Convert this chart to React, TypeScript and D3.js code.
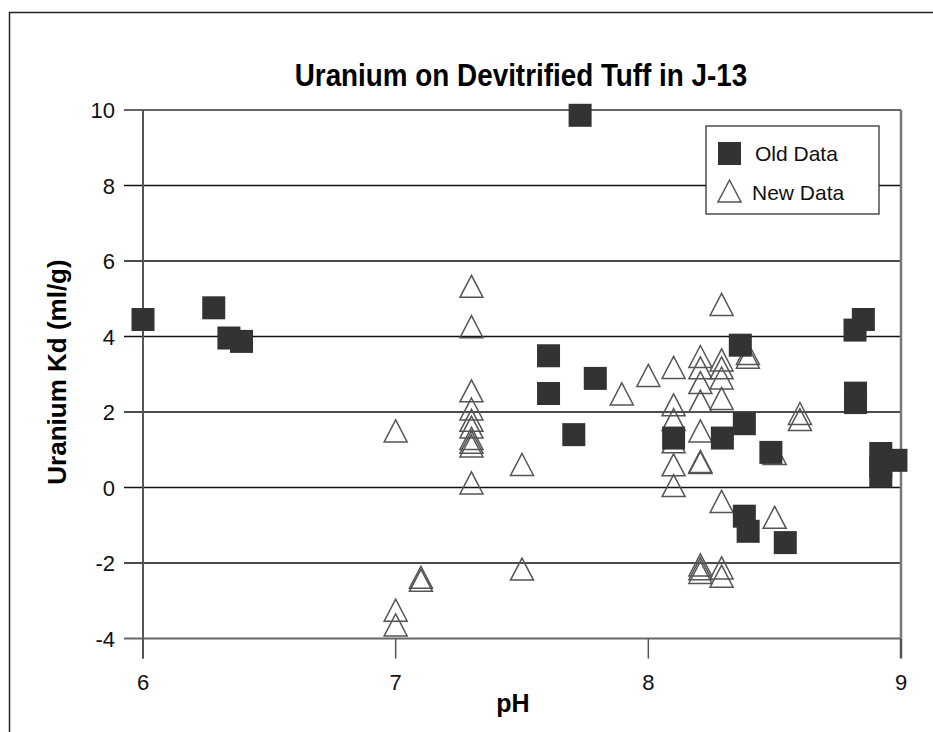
import React from 'react';
import * as d3 from 'd3';

// Old Data (filled squares)
const oldPH = [6.0, 6.28, 6.34, 6.39, 7.73, 7.605, 7.605, 7.79, 7.705, 8.1, 8.293, 8.364, 8.38, 8.485, 8.38, 8.395, 8.542, 8.851, 8.818, 8.82, 8.82, 8.92, 8.92, 8.92, 8.98];
const oldKd = [4.45, 4.76, 3.96, 3.87, 9.86, 3.49, 2.49, 2.89, 1.4, 1.31, 1.31, 3.77, 1.69, 0.93, -0.76, -1.16, -1.46, 4.45, 4.17, 2.5, 2.25, 0.9, 0.55, 0.3, 0.72];

// New Data (open triangles)
const newPH = [
  7.0, 7.0, 7.0,
  7.1, 7.1,
  7.3, 7.3, 7.3, 7.3, 7.3, 7.3, 7.3, 7.3, 7.3, 7.3,
  7.5, 7.5,
  7.895, 8.0,
  8.1, 8.1, 8.1, 8.1, 8.1, 8.1,
  8.206, 8.206, 8.206, 8.206, 8.206, 8.206, 8.206, 8.206, 8.206, 8.206,
  8.29, 8.29, 8.29, 8.29, 8.29, 8.29, 8.29, 8.29,
  8.394, 8.394,
  8.5, 8.5,
  8.6, 8.6,
];
const newKd = [
  1.5, -3.25, -3.64,
  -2.38, -2.46,
  5.33, 4.26, 2.56, 2.08, 1.78, 1.6, 1.3, 1.2, 1.1, 0.12,
  0.61, -2.16,
  2.48, 2.97,
  3.18, 2.19, 1.8, 1.21, 0.6, 0.05,
  3.47, 3.17, 2.78, 2.29, 1.5, 0.69, 0.66, -2.05, -2.15, -2.25,
  4.85, 3.38, 3.17, 2.9, 2.36, -0.37, -2.13, -2.35,
  3.55, 3.45,
  0.9, -0.79,
  1.96, 1.8,
];

const xTicks = [6, 7, 8, 9];
const yTicks = [-4, -2, 0, 2, 4, 6, 8, 10];
const titleText = 'Uranium on Devitrified Tuff in J-13';
const xTitle = 'pH';
const yTitle = 'Uranium Kd (ml/g)';
const legendLabels = ['Old Data', 'New Data'];

const W = 933;
const H = 732;
const FONT = 'Arial, "Liberation Sans", Helvetica, sans-serif';

export default function App() {
  const x = d3.scaleLinear().domain([6, 9]).range([143, 901]);
  const y = d3.scaleLinear().domain([-4, 10]).range([638.5, 110]);
  const sq = 23;
  const tw = 11.5;
  const th = 11;
  const x0 = x.range()[0];
  const x1 = x.range()[1];
  const yTop = y(10);
  const yBot = y(-4);

  const tri = (cx: number, cy: number) =>
    `M${cx},${cy - th}L${cx + tw},${cy + th}L${cx - tw},${cy + th}Z`;

  return (
    <svg width={W} height={H} style={{ position: 'absolute', left: 0, top: 0, background: '#fff' }} fontFamily={FONT}>
      <rect x={0} y={0} width={W} height={H} fill="#fff" />
      <rect x={9.5} y={12.5} width={W + 20} height={H + 20} fill="none" stroke="#222" strokeWidth={1.5} />
      <text transform="translate(521,86) scale(0.87,1)" x={0} y={0} textAnchor="middle" fontSize={32} fontWeight="bold" fill="#000">{titleText}</text>

      {/* gridlines */}
      {yTicks.map((t) => (
        <line key={'g' + t} x1={124} x2={x1} y1={y(t)} y2={y(t)}
          stroke={t === -4 || t === 10 ? '#666' : '#111'} strokeWidth={t === -4 || t === 10 ? 2 : 1.3} />
      ))}
      {/* y axis */}
      <line x1={x0} x2={x0} y1={yTop} y2={yBot + 20} stroke="#555" strokeWidth={2} />
      {/* right border */}
      <line x1={x1} x2={x1} y1={yTop} y2={yBot} stroke="#777" strokeWidth={2.5} />
      {/* x ticks */}
      {xTicks.map((t) => (
        <line key={'xt' + t} x1={x(t)} x2={x(t)} y1={yBot} y2={yBot + 20} stroke="#555" strokeWidth={t === 9 ? 2.5 : 1.5} />
      ))}
      {xTicks.map((t) => (
        <text key={'xl' + t} x={x(t)} y={690} textAnchor="middle" fontSize={22} fill="#111">{t}</text>
      ))}
      {yTicks.map((t) => (
        <text key={'yl' + t} x={115} y={y(t) + 8} textAnchor="end" fontSize={22} fill="#111">{t}</text>
      ))}
      <text x={513} y={712} textAnchor="middle" fontSize={25} fontWeight="bold" fill="#000">{xTitle}</text>
      <text transform={`translate(66,372) rotate(-90)`} textAnchor="middle" fontSize={26} fontWeight="bold" fill="#000">{yTitle}</text>

      {/* New data triangles */}
      {newPH.map((p, i) => (
        <path key={'n' + i} d={tri(x(p), y(newKd[i]))} fill="none" stroke="#555" strokeWidth={1.5} />
      ))}
      {/* Old data squares */}
      {oldPH.map((p, i) => (
        <rect key={'o' + i} x={x(p) - sq / 2} y={y(oldKd[i]) - sq / 2} width={sq} height={sq} fill="#333" />
      ))}

      {/* legend */}
      <rect x={706} y={126} width={173} height={88} fill="#fff" stroke="#333" strokeWidth={1.3} />
      <rect x={718} y={142} width={23} height={23} fill="#333" />
      <path d={tri(729.5, 191)} fill="none" stroke="#555" strokeWidth={1.5} />
      <text x={755} y={161} fontSize={21} fill="#111">{legendLabels[0]}</text>
      <text x={752} y={200} fontSize={21} fill="#111">{legendLabels[1]}</text>
    </svg>
  );
}
